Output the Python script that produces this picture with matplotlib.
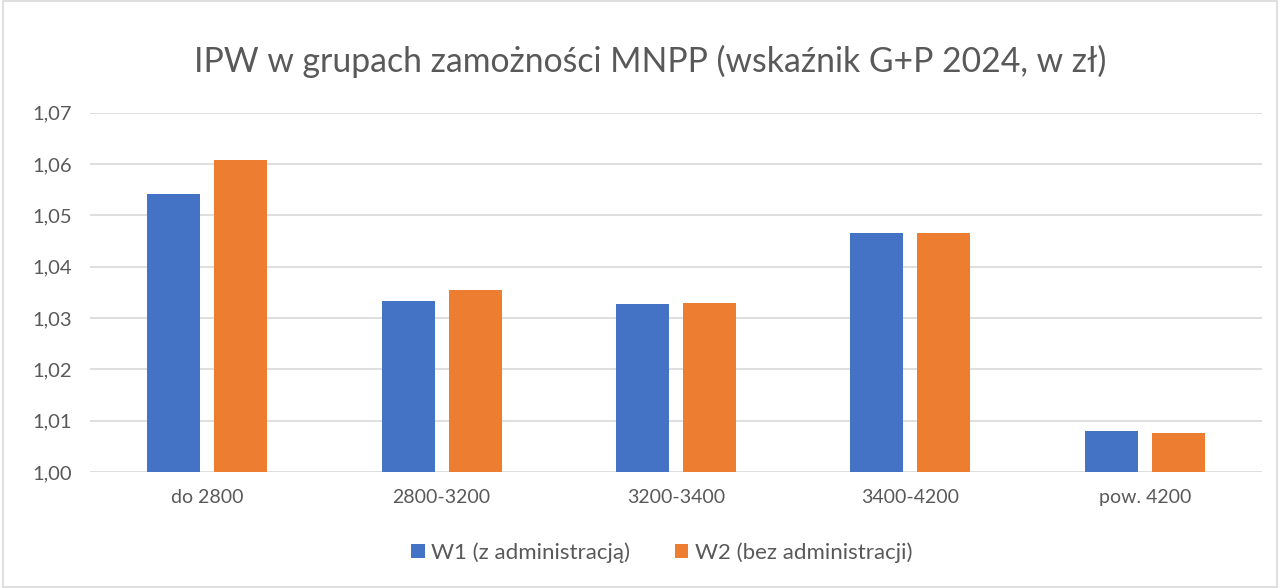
import numpy as np
import matplotlib.pyplot as plt
from matplotlib.patches import Rectangle

plt.rcParams['font.family'] = ['Lato', 'DejaVu Sans']

# data
categories = ["do 2800", "2800-3200", "3200-3400", "3400-4200", "pow. 4200"]
w1 = [1.0541, 1.0334, 1.0328, 1.0466, 1.0081]
w2 = [1.0607, 1.0355, 1.0330, 1.0466, 1.0077]
series_names = ["W1 (z administracją)", "W2 (bez administracji)"]
yticks = [1.00, 1.01, 1.02, 1.03, 1.04, 1.05, 1.06, 1.07]

blue = "#4472C4"
orange = "#ED7D31"
txt = "#595959"

fig = plt.figure(figsize=(12.8, 5.88), dpi=100)
ax = fig.add_axes([0.0703, 0.197, 0.9157, 0.6113])

x = np.arange(len(categories))
bw = 0.226
off = 0.143
ax.bar(x - off, w1, bw, color=blue, label=series_names[0], zorder=3)
ax.bar(x + off, w2, bw, color=orange, label=series_names[1], zorder=3)

ax.set_xlim(-0.5, len(categories) - 0.5)
ax.set_ylim(1.0, 1.07)
ax.set_yticks(yticks)
ax.set_yticklabels([f"{v:.2f}".replace(".", ",") for v in yticks])
ax.set_xticks(x)
ax.set_xticklabels(categories)
ax.tick_params(axis='both', length=0, colors=txt)
ax.tick_params(axis='y', pad=13, labelsize=14.5)
ax.tick_params(axis='x', pad=12, labelsize=14)
ax.grid(axis='y', color="#D9D9D9", linewidth=1.2, zorder=0)
for s in ax.spines.values():
    s.set_visible(False)

fig.text(0.508, 0.895, "IPW w grupach zamożności MNPP (wskaźnik G+P 2024, w zł)",
         ha='center', va='center', fontsize=24.3, color=txt)

fig.legend(loc='center', bbox_to_anchor=(0.517, 0.06), ncol=2, frameon=False,
           fontsize=16, labelcolor=txt, handlelength=0.6, handleheight=0.6,
           handletextpad=0.3, columnspacing=2.0)

# light border around the chart area
fig.patches.append(Rectangle((0.002, 0.002), 0.996, 0.996, transform=fig.transFigure,
                             fill=False, edgecolor="#D9D9D9", linewidth=1.2))

fig.savefig("out.png", dpi=100)
